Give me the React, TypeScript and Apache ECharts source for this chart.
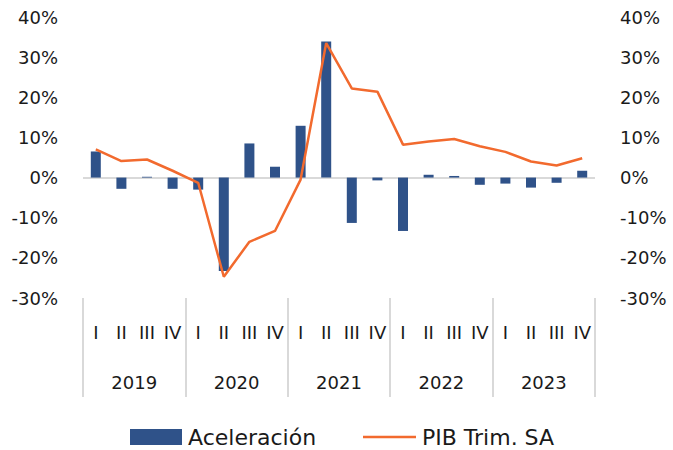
import React, { useEffect, useRef } from "react";
import * as echarts from "echarts";

const quarters = ["I", "II", "III", "IV"];
const years = ["2019", "2020", "2021", "2022", "2023"];
const aceleracion = [6.5, -2.8, 0.2, -2.8, -3.0, -23.3, 8.5, 2.7, 12.9, 33.9, -11.3, -0.7, -13.3, 0.7, 0.4, -1.8, -1.5, -2.5, -1.3, 1.7];
const pibTrim = [7.0, 4.1, 4.5, 1.7, -1.3, -24.7, -16.0, -13.3, -0.5, 33.5, 22.2, 21.4, 8.2, 9.0, 9.6, 7.8, 6.4, 4.0, 3.0, 4.8];

const FONT = "DejaVu Sans";
const TEXT = "#1a1a1a";
const BLUE = "#2f5289";
const ORANGE = "#f26a2e";
const LINE_ICON = "path://M0,0 L0.01,0 L0.01,0.01 Z M0,6.75 L53,6.75 L53,9.25 L0,9.25 Z M52.99,16 L53,16 L53,15.99 Z";

export default function App() {
  const ref = useRef<HTMLDivElement>(null);
  useEffect(() => {
    if (!ref.current) return;
    const chart = echarts.init(ref.current, null, { renderer: "svg" });
    const cats: string[] = [];
    years.forEach(() => quarters.forEach((q) => cats.push(q)));
    const yAxisCommon = {
      type: "value" as const,
      min: -30,
      max: 40,
      interval: 10,
      splitLine: { show: false },
      axisLine: { show: false },
      axisTick: { show: false },
    };
    const legendText = { fontFamily: FONT, fontSize: 22, lineHeight: 24, color: TEXT, padding: [0, 0, 0, 1] };
    chart.setOption({
      animation: false,
      textStyle: { fontFamily: FONT },
      grid: { left: 83, right: 78, top: 17, bottom: 152, containLabel: false },
      legend: [
        {
          data: ["Aceleración"],
          left: 130,
          top: 425,
          padding: 0,
          itemGap: 6,
          itemWidth: 52,
          itemHeight: 16,
          icon: "rect",
          itemStyle: { color: BLUE },
          textStyle: legendText,
        },
        {
          data: ["PIB Trim. SA"],
          left: 363,
          top: 425,
          padding: 0,
          itemGap: 6,
          itemWidth: 53,
          itemHeight: 16,
          icon: LINE_ICON,
          itemStyle: { color: ORANGE, borderWidth: 0 },
          textStyle: legendText,
        },
      ],
      xAxis: [
        {
          type: "category",
          data: cats,
          position: "bottom",
          boundaryGap: true,
          axisLine: { show: false, onZero: false },
          axisTick: { show: false },
          axisLabel: { interval: 0, margin: 25, fontSize: 18, color: TEXT, fontFamily: FONT },
        },
        {
          type: "category",
          data: years,
          position: "bottom",
          boundaryGap: true,
          axisLine: { show: false, onZero: false },
          axisTick: { show: true, length: 99, interval: 0, lineStyle: { color: "#d9d9d9", width: 2 } },
          axisLabel: { interval: 0, margin: 75, fontSize: 18, color: TEXT, fontFamily: FONT },
        },
      ],
      yAxis: [
        {
          ...yAxisCommon,
          position: "left",
          axisLabel: { margin: 25, fontSize: 18, color: TEXT, fontFamily: FONT, formatter: (v: number) => `${v}%` },
        },
        {
          ...yAxisCommon,
          position: "right",
          axisLabel: { margin: 25, fontSize: 18, color: TEXT, fontFamily: FONT, formatter: (v: number) => `${v}%` },
        },
      ],
      series: [
        {
          name: "Aceleración",
          type: "bar",
          xAxisIndex: 0,
          yAxisIndex: 0,
          data: aceleracion,
          barWidth: 10,
          itemStyle: { color: BLUE },
          z: 3,
          markLine: {
            silent: true,
            symbol: "none",
            label: { show: false },
            lineStyle: { color: "#d9d9d9", width: 2, type: "solid" },
            data: [{ yAxis: 0 }],
            z: 1,
          },
        },
        {
          name: "PIB Trim. SA",
          type: "line",
          xAxisIndex: 0,
          yAxisIndex: 1,
          data: pibTrim,
          symbol: "none",
          lineStyle: { color: ORANGE, width: 2.5 },
          itemStyle: { color: ORANGE },
          z: 4,
        },
      ],
    });
    return () => chart.dispose();
  }, []);
  return <div ref={ref} style={{ width: 673, height: 450, position: "absolute", left: 0, top: 0 }} />;
}
